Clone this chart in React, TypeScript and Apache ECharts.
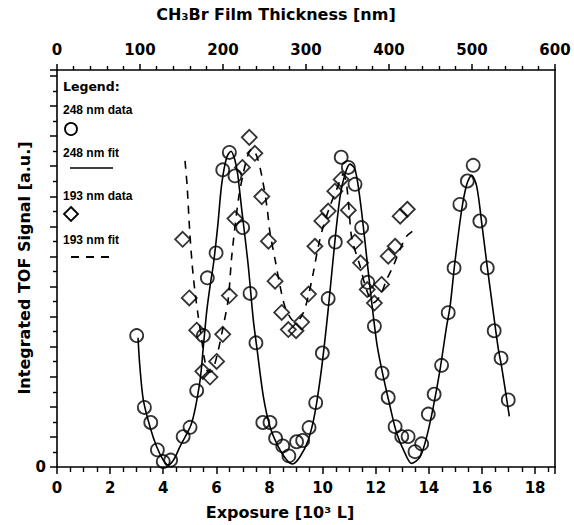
import React, { useEffect, useRef } from "react";
import * as echarts from "echarts";

// 248 nm measurements: exposure (10^3 L) and integrated TOF signal (a.u.)
const exposure248 = [
  3.0, 3.29, 3.53, 3.78, 4.0, 4.28, 4.75, 5.01, 5.26, 5.51, 5.66, 5.99, 6.24, 6.49,
  6.7, 6.99, 7.27, 7.49, 7.75, 8.02, 8.23, 8.5, 8.73, 9.02, 9.25, 9.49, 9.74, 9.99,
  10.21, 10.48, 10.7, 10.97, 11.22, 11.47, 11.7, 11.95, 12.24, 12.47, 12.73, 12.98,
  13.22, 13.48, 13.73, 13.98, 14.2, 14.48, 14.73, 14.95, 15.17, 15.45, 15.67, 15.92,
  16.2, 16.46, 16.72, 16.99,
];
const signal248 = [
  4.37, 1.98, 1.48, 0.57, 0.18, 0.23, 1.01, 1.32, 2.54, 4.37, 6.29, 7.12, 9.88, 10.46,
  9.68, 7.96, 5.77, 4.13, 1.48, 1.48, 0.96, 0.7, 0.37, 0.84, 0.88, 1.31, 2.14, 3.79,
  5.6, 7.48, 10.3, 9.96, 9.4, 7.96, 6.14, 4.68, 3.12, 2.31, 1.34, 1.01,
  1.01, 0.51, 0.77, 1.76, 2.42, 3.38, 5.13, 6.62, 8.73, 9.51, 10.03, 8.18,
  6.62, 4.53, 3.62, 2.23,
];

// 248 nm fit curve
const fit248X = [
  3.05, 3.12, 3.25, 3.5, 3.75, 4.0, 4.19, 4.4, 4.63, 5.07, 5.38, 5.51, 5.64, 5.76,
  5.89, 6.05, 6.2, 6.39, 6.55, 6.7, 6.8, 6.95, 7.2, 7.39, 7.52, 7.77, 8.02, 8.33,
  8.65, 8.87, 9.15, 9.46, 9.71, 9.97, 10.21, 10.47, 10.66, 10.84, 11.03, 11.22,
  11.41, 11.6, 11.78, 12.04, 12.23, 12.54, 12.79, 13.1, 13.35, 13.67, 13.92, 14.17,
  14.42, 14.67, 14.8, 14.98, 15.24, 15.43, 15.61, 15.8, 15.99, 16.18, 16.43, 16.62,
  16.74, 17.03,
];
const fit248Y = [
  4.3, 3.34, 2.23, 1.34, 0.68, 0.23, 0.07, 0.25, 0.68, 1.46, 2.84, 4.0, 5.2, 6.0,
  6.75, 8.0, 9.4, 10.3, 10.5, 10.2, 9.75, 8.6, 6.7, 4.9, 4.0, 2.34, 1.34, 0.68,
  0.23, 0.1, 0.34, 0.9, 1.79, 3.34, 5.23, 7.57, 9.0, 9.73, 10.07, 9.9,
  8.9, 7.46, 6.01, 4.12, 3.23, 2.01, 1.12, 0.46, 0.12, 0.34, 1.01, 2.01,
  3.23, 4.68, 5.34, 6.8, 8.57, 9.4, 9.7, 9.34, 8.12, 6.79, 5.12, 3.9,
  3.34, 1.68,
];

// 193 nm measurements
const exposure193 = [
  4.73, 4.98, 5.26, 5.49, 5.76, 6.01, 6.24, 6.49, 6.7, 6.98, 7.24, 7.45, 7.71, 7.96,
  8.21, 8.46, 8.71, 9.0, 9.21, 9.47, 9.71, 9.97, 10.21, 10.46, 10.7, 10.97, 11.22,
  11.43, 11.68, 11.95, 12.22, 12.47, 12.73, 12.92, 13.19,
];
const signal193 = [
  7.57, 5.62, 4.55, 3.18, 2.99, 3.51, 4.41, 5.7, 8.26, 9.96, 10.96, 10.43, 8.99, 7.51,
  6.18, 5.14, 4.57, 4.53, 4.82, 5.75, 7.34, 8.18, 8.51, 9.17, 9.56, 8.54, 7.48,
  6.79, 5.9, 5.45, 6.07, 7.01, 7.34, 8.34, 8.57,
];

// 193 nm fit curve
const fit193X = [
  4.82, 4.9, 5.0, 5.13, 5.3, 5.45, 5.55, 5.7, 5.85, 6.05, 6.26, 6.45, 6.58, 6.83,
  7.02, 7.2, 7.33, 7.52, 7.71, 7.9, 8.02, 8.21, 8.4, 8.58, 8.84, 9.02, 9.27, 9.46,
  9.65, 9.84, 10.03, 10.28, 10.53, 10.78, 10.9, 11.0, 11.1, 11.41, 11.65, 11.91,
  12.16, 12.41, 12.66, 12.91, 13.17, 13.48,
];
const fit193Y = [
  10.18, 9.34, 7.79, 6.34, 5.12, 4.23, 3.6, 3.15, 3.2, 3.8, 4.68, 5.6, 7.01, 8.9,
  9.79, 10.4, 10.57, 10.34, 9.68, 8.68, 7.79, 6.9, 6.01, 5.34, 4.9, 4.84, 5.12, 5.68,
  6.46, 7.34, 8.01, 8.68, 9.23, 9.73, 9.4, 8.5, 7.6, 6.68, 5.9, 5.46,
  5.68, 6.23, 6.68, 7.23, 7.68, 7.9,
];

const zip = (xs: number[], ys: number[]) => xs.map((x, i) => [x, ys[i]]);

const FONT = "DejaVu Sans";
const ITEM_FONT = "Liberation Sans";
const INK = "#000";

// fresh style objects for each axis part
const tick = (length: number) => ({ show: true, length, lineStyle: { color: INK, width: 1.5 } });
const minor = (splitNumber: number, length: number) => ({
  show: true,
  splitNumber,
  length,
  lineStyle: { color: INK, width: 1.4 },
});
// keep every axis on its own side of the grid (not on the other axis' zero)
const line = () => ({ show: true, onZero: false, lineStyle: { color: INK, width: 1.6 } });

export default function App() {
  const ref = useRef<HTMLDivElement>(null);

  useEffect(() => {
    if (!ref.current) return;
    const chart = echarts.init(ref.current, undefined, { renderer: "svg" });

    const labelStyle = { color: INK, fontFamily: FONT, fontWeight: "bold" as const, fontSize: 15 };
    const titleFont = `bold 16px "${FONT}"`;
    const itemFont = `bold 12px "${ITEM_FONT}"`;

    const legendText = (text: string, y: number, font = itemFont) => ({
      type: "text",
      x: 63,
      y,
      style: { text, font, fill: INK, verticalAlign: "middle", textVerticalAlign: "middle" },
    });

    chart.setOption({
      animation: false,
      backgroundColor: "#fff",
      grid: { left: 57, right: 19, top: 70, bottom: 58 },
      xAxis: [
        {
          type: "value",
          position: "bottom",
          min: 0,
          max: 18.75,
          interval: 2,
          axisLine: line(),
          axisTick: tick(7),
          minorTick: minor(4, 5),
          axisLabel: { ...labelStyle, margin: 13, showMaxLabel: false },
          splitLine: { show: false },
        },
        {
          type: "value",
          position: "top",
          min: 0,
          max: 600,
          interval: 100,
          axisLine: line(),
          axisTick: tick(6),
          minorTick: minor(5, 4),
          axisLabel: { ...labelStyle, margin: 13 },
          splitLine: { show: false },
        },
      ],
      yAxis: [
        {
          type: "value",
          position: "left",
          min: 0,
          max: 13.2,
          interval: 1,
          axisLine: line(),
          axisTick: tick(7),
          minorTick: minor(2, 4),
          axisLabel: {
            ...labelStyle,
            margin: 11,
            formatter: (v: number) => (v === 0 ? "0" : ""),
          },
          splitLine: { show: false },
        },
        {
          type: "value",
          position: "right",
          min: 0,
          max: 13.2,
          axisLine: line(),
          axisTick: { show: false },
          axisLabel: { show: false },
          splitLine: { show: false },
        },
      ],
      series: [
        {
          name: "248 nm fit",
          type: "line",
          data: zip(fit248X, fit248Y),
          smooth: 0.3,
          showSymbol: false,
          symbol: "none",
          lineStyle: { color: INK, width: 1.6 },
          z: 2,
        },
        {
          name: "193 nm fit",
          type: "line",
          data: zip(fit193X, fit193Y),
          smooth: 0.3,
          showSymbol: false,
          symbol: "none",
          lineStyle: { color: INK, width: 1.6, type: [8, 7] },
          z: 2,
        },
        {
          name: "248 nm data",
          type: "scatter",
          data: zip(exposure248, signal248),
          symbol: "circle",
          symbolSize: 13,
          itemStyle: { color: "rgba(0,0,0,0)", borderColor: INK, borderWidth: 1.8 },
          z: 3,
        },
        {
          name: "193 nm data",
          type: "scatter",
          data: zip(exposure193, signal193),
          symbol: "diamond",
          symbolSize: [15, 15],
          itemStyle: { color: "rgba(0,0,0,0)", borderColor: INK, borderWidth: 1.8 },
          z: 3,
        },
      ],
      graphic: [
        {
          type: "text",
          x: 276,
          y: 14,
          style: {
            text: "CH\u2083Br Film Thickness [nm]",
            font: titleFont,
            fill: INK,
            align: "center",
            verticalAlign: "middle",
            textAlign: "center",
            textVerticalAlign: "middle",
          },
        },
        {
          type: "text",
          x: 280,
          y: 512,
          style: {
            text: "Exposure [10\u00B3 L]",
            font: titleFont,
            fill: INK,
            align: "center",
            verticalAlign: "middle",
            textAlign: "center",
            textVerticalAlign: "middle",
          },
        },
        {
          type: "text",
          x: 24,
          y: 268,
          rotation: Math.PI / 2,
          style: {
            text: "Integrated TOF Signal [a.u.]",
            font: titleFont,
            fill: INK,
            align: "center",
            verticalAlign: "middle",
            textAlign: "center",
            textVerticalAlign: "middle",
          },
        },
        // legend block inside the plot
        legendText("Legend:", 86, `bold 12.5px "${FONT}"`),
        legendText("248 nm data", 110),
        { type: "circle", shape: { cx: 71, cy: 129, r: 6 }, style: { fill: "none", stroke: INK, lineWidth: 1.8 } },
        legendText("248 nm fit", 153),
        { type: "line", shape: { x1: 70, y1: 168, x2: 113, y2: 168 }, style: { stroke: INK, lineWidth: 1.6 } },
        legendText("193 nm data", 196),
        {
          type: "polygon",
          shape: { points: [[71, 207], [78, 214], [71, 221], [64, 214]] },
          style: { fill: "none", stroke: INK, lineWidth: 1.8 },
        },
        legendText("193 nm fit", 240),
        {
          type: "line",
          shape: { x1: 71, y1: 257, x2: 115, y2: 257 },
          style: { stroke: INK, lineWidth: 1.8, lineDash: [8, 7] },
        },
      ],
    });

    return () => chart.dispose();
  }, []);

  return (
    <div
      ref={ref}
      style={{ position: "fixed", left: 0, top: 0, width: 574, height: 525, background: "#fff" }}
    />
  );
}
